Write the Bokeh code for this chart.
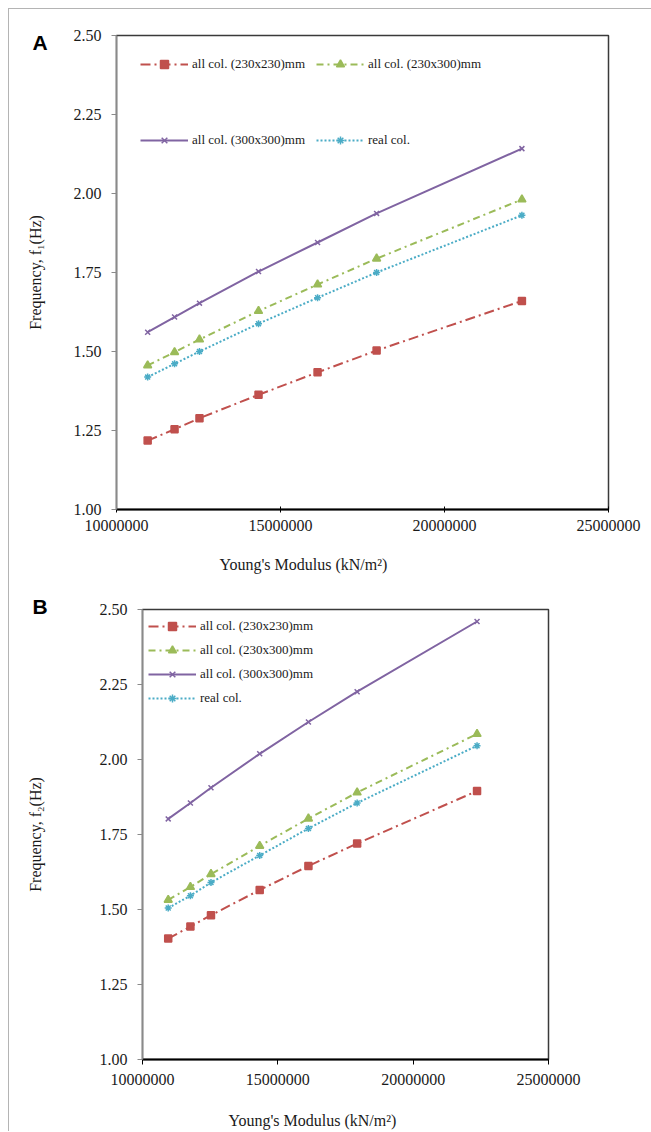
from bokeh.plotting import figure
from bokeh.models import FixedTicker, NumeralTickFormatter, Legend, LegendItem, Range1d, Title
from bokeh.layouts import column
from bokeh.embed import file_html
from bokeh.resources import INLINE

# ---------------- data ----------------
youngs_modulus = [10950000, 11770000, 12530000, 14330000, 16130000, 17930000, 22360000]

series_names = ["all col. (230x230)mm", "all col. (230x300)mm", "all col. (300x300)mm", "real col."]

f1_230x230 = [1.218, 1.254, 1.289, 1.363, 1.434, 1.503, 1.660]
f1_230x300 = [1.456, 1.498, 1.538, 1.628, 1.712, 1.794, 1.981]
f1_300x300 = [1.561, 1.609, 1.653, 1.753, 1.845, 1.937, 2.142]
f1_real = [1.419, 1.461, 1.500, 1.588, 1.670, 1.750, 1.931]

f2_230x230 = [1.403, 1.443, 1.481, 1.565, 1.645, 1.720, 1.895]
f2_230x300 = [1.532, 1.575, 1.618, 1.712, 1.803, 1.890, 2.085]
f2_300x300 = [1.802, 1.855, 1.906, 2.019, 2.125, 2.226, 2.460]
f2_real = [1.505, 1.546, 1.590, 1.680, 1.770, 1.855, 2.046]

y_ticks = [1.00, 1.25, 1.50, 1.75, 2.00, 2.25, 2.50]
x_ticks = [10000000, 15000000, 20000000, 25000000]

# ---------------- styles ----------------
SERIF = "Liberation Serif"
SERIF_Q = "'Liberation Serif', serif"
SANS = "Liberation Sans"
TEXT = "#1a1a1a"
STYLES = [
    dict(color="#C0504D", dash="10 4 2 4", marker="square", size=7, width=2),
    dict(color="#9BBB59", dash="7 4 2 4", marker="triangle", size=8, width=2),
    dict(color="#8064A2", dash="solid", marker="x", size=7, width=2),
    dict(color="#4BACC6", dash="2 2", marker="asterisk", size=7, width=2),
]


def make_panel(series, width, height, borders, ylabel, ylabel_standoff, xtick_in, xtick_out, xlab_standoff):
    left, right, top, bottom = borders
    p = figure(width=width, height=height, output_backend="svg", toolbar_location=None,
               x_range=Range1d(10000000, 25000000), y_range=Range1d(1.0, 2.5),
               min_border_left=left, min_border_right=right,
               min_border_top=top, min_border_bottom=bottom, frame_align=False)
    p.xgrid.visible = False
    p.ygrid.visible = False
    p.outline_line_color = "#3a3a3a"
    p.outline_line_width = 1.5
    p.background_fill_color = "white"
    p.border_fill_color = "white"

    items = []
    for vals, name, st in zip(series, series_names, STYLES):
        ln = p.line(youngs_modulus, vals, line_color=st["color"], line_width=st["width"],
                    line_dash=st["dash"])
        mk = p.scatter(youngs_modulus, vals, marker=st["marker"], size=st["size"],
                       line_color=st["color"], fill_color=st["color"], line_width=1.5)
        items.append(LegendItem(label=name, renderers=[ln, mk]))

    p.xaxis.ticker = FixedTicker(ticks=x_ticks)
    p.yaxis.ticker = FixedTicker(ticks=y_ticks)
    p.xaxis.formatter = NumeralTickFormatter(format="0")
    p.yaxis.formatter = NumeralTickFormatter(format="0.00")
    for ax in (p.xaxis, p.yaxis):
        ax.major_label_text_font = SERIF
        ax.major_label_text_font_size = "16px"
        ax.major_label_text_color = TEXT
        ax.minor_tick_line_color = None
    p.xaxis.axis_line_color = "black"
    p.xaxis.axis_line_width = 2
    p.xaxis.major_tick_line_color = "black"
    p.xaxis.major_tick_in = xtick_in
    p.xaxis.major_tick_out = xtick_out
    p.xaxis.major_label_standoff = xlab_standoff
    p.yaxis.axis_line_color = "#8a8a8a"
    p.yaxis.axis_line_width = 1.5
    p.yaxis.major_tick_line_color = "#8a8a8a"
    p.yaxis.major_tick_in = 0
    p.yaxis.major_tick_out = 5
    p.yaxis.major_label_standoff = 10
    p.yaxis.axis_label = ylabel
    p.yaxis.axis_label_text_font = SERIF
    p.yaxis.axis_label_text_font_style = "normal"
    p.yaxis.axis_label_text_font_size = "16px"
    p.yaxis.axis_label_text_color = TEXT
    p.yaxis.axis_label_standoff = ylabel_standoff
    return p, items


def style_legend(lg, glyph_w=48):
    lg.label_text_font = SERIF
    lg.label_text_font_size = "13px"
    lg.label_text_color = TEXT
    lg.glyph_width = glyph_w
    lg.glyph_height = 20
    lg.label_height = 20
    lg.label_standoff = 4
    lg.padding = 0
    lg.margin = 0
    lg.border_line_color = None
    lg.background_fill_alpha = 0


def add_xlabel(p, offset, standoff):
    t = Title(text="Young's Modulus (kN/m\u00b2)", align="left", offset=offset, standoff=standoff,
              text_font=SERIF_Q, text_font_size="16px", text_font_style="normal", text_color=TEXT)
    p.add_layout(t, "below")


def add_letter(p, letter, offset, standoff):
    t = Title(text=letter, align="left", offset=offset, standoff=standoff,
              text_font=SANS, text_font_size="21px", text_font_style="bold", text_color="black")
    p.add_layout(t, "above")


# ---------------- panel A ----------------
pA, itemsA = make_panel([f1_230x230, f1_230x300, f1_300x300, f1_real], 642, 584,
                        (107, 43, 26, 84), "Frequency, f\u2081(Hz)", 27, 3, 3, 7)
lgA1 = Legend(items=[itemsA[0], itemsA[1]], orientation="horizontal", location=(24, 435))
lgA2 = Legend(items=[itemsA[2], itemsA[3]], orientation="horizontal", location=(24, 359))
for lg in (lgA1, lgA2):
    style_legend(lg)
    lg.spacing = 11
    pA.add_layout(lg)
add_xlabel(pA, 103, 40)
add_letter(pA, "A", -84, -36)

# ---------------- panel B ----------------
pB, itemsB = make_panel([f2_230x230, f2_230x300, f2_300x300, f2_real], 642, 558,
                        (133, 103, 16, 92), "Frequency, f\u2082(Hz)", 53, 0, 5, 9)
lgB = Legend(items=itemsB, orientation="vertical", location=(6, 351))
style_legend(lgB)
lgB.spacing = 4
pB.add_layout(lgB)
add_xlabel(pB, 86, 44)
add_letter(pB, "B", -110, -17)

layout = column(pA, pB, spacing=0, margin=(8, 0, 0, 8),
                styles={"border-left": "1px solid #b4b4b4", "border-top": "1px solid #b4b4b4",
                        "overflow": "hidden", "max-height": "1123px"})
open("out.html", "w").write(file_html(layout, INLINE))
